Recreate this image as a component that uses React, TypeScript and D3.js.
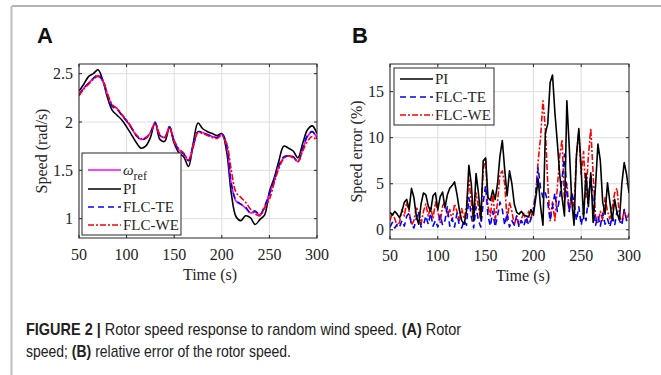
import React, { useLayoutEffect, useRef } from "react";
import * as d3 from "d3";

// ---------- Panel A data (rotor speed, rad/s) ----------
const TIME_A = [50, 55, 60, 65, 70, 75, 80, 85, 90, 95, 100, 105, 110, 115, 120, 125, 130, 135, 140, 145, 150, 155, 160, 165, 170, 175, 180, 185, 190, 195, 200, 205, 210, 215, 220, 225, 230, 235, 240, 245, 250, 255, 260, 265, 270, 275, 280, 285, 290, 295, 300];
const A_REF = [2.28, 2.35, 2.40, 2.45, 2.48, 2.42, 2.28, 2.17, 2.14, 2.07, 2.01, 1.94, 1.86, 1.82, 1.83, 1.89, 1.99, 1.86, 1.84, 1.95, 1.80, 1.71, 1.67, 1.60, 1.76, 1.90, 1.89, 1.87, 1.85, 1.84, 1.87, 1.76, 1.36, 1.18, 1.15, 1.11, 1.06, 1.07, 1.04, 1.12, 1.25, 1.39, 1.54, 1.63, 1.65, 1.64, 1.59, 1.72, 1.85, 1.90, 1.83];
const A_PI = [2.32, 2.39, 2.47, 2.50, 2.54, 2.43, 2.25, 2.12, 2.07, 2.02, 1.95, 1.87, 1.79, 1.73, 1.75, 1.84, 2.00, 1.82, 1.80, 1.94, 1.78, 1.68, 1.64, 1.54, 1.78, 1.99, 1.93, 1.90, 1.88, 1.86, 1.88, 1.70, 1.26, 1.02, 0.98, 1.03, 1.01, 0.94, 0.99, 1.04, 1.28, 1.42, 1.60, 1.75, 1.73, 1.70, 1.63, 1.78, 1.92, 1.96, 1.88];
const A_TE = [2.28, 2.35, 2.40, 2.45, 2.49, 2.43, 2.28, 2.16, 2.13, 2.07, 2.01, 1.94, 1.86, 1.82, 1.83, 1.89, 1.99, 1.86, 1.84, 1.95, 1.80, 1.71, 1.67, 1.60, 1.76, 1.90, 1.89, 1.87, 1.85, 1.84, 1.88, 1.77, 1.36, 1.19, 1.15, 1.12, 1.06, 1.08, 1.04, 1.13, 1.26, 1.40, 1.55, 1.64, 1.65, 1.64, 1.59, 1.73, 1.86, 1.90, 1.83];
const A_WE = [2.27, 2.34, 2.39, 2.44, 2.47, 2.43, 2.29, 2.18, 2.14, 2.08, 2.02, 1.95, 1.87, 1.83, 1.84, 1.89, 1.98, 1.87, 1.84, 1.94, 1.81, 1.72, 1.68, 1.61, 1.74, 1.89, 1.88, 1.86, 1.84, 1.83, 1.86, 1.78, 1.50, 1.27, 1.22, 1.17, 1.10, 1.05, 1.03, 1.11, 1.20, 1.37, 1.52, 1.62, 1.65, 1.63, 1.59, 1.70, 1.80, 1.85, 1.80];

// ---------- Panel B data (speed error, %) ----------
const TIME_B = [50, 52.5, 55, 57.5, 60, 62.5, 65, 67.5, 70, 72.5, 75, 77.5, 80, 82.5, 85, 87.5, 90, 92.5, 95, 97.5, 100, 102.5, 105, 107.5, 110, 112.5, 115, 117.5, 120, 122.5, 125, 127.5, 130, 132.5, 135, 137.5, 140, 142.5, 145, 147.5, 150, 152.5, 155, 157.5, 160, 162.5, 165, 167.5, 170, 172.5, 175, 177.5, 180, 182.5, 185, 187.5, 190, 192.5, 195, 197.5, 200, 202.5, 205, 207.5, 210, 212.5, 215, 217.5, 220, 222.5, 225, 227.5, 230, 232.5, 235, 237.5, 240, 242.5, 245, 247.5, 250, 252.5, 255, 257.5, 260, 262.5, 265, 267.5, 270, 272.5, 275, 277.5, 280, 282.5, 285, 287.5, 290, 292.5, 295, 297.5, 300];
const B_PI = [1.9, 1.6, 2.0, 1.7, 1.3, 2.0, 3.0, 3.3, 2.2, 4.5, 3.5, 1.5, 0.6, 2.8, 4.0, 3.8, 2.6, 2.0, 3.7, 4.0, 2.2, 3.6, 4.1, 2.4, 3.8, 4.5, 4.8, 5.2, 3.9, 2.2, 1.0, 0.6, 2.0, 7.0, 5.0, 1.0, 6.1, 4.0, 1.2, 7.5, 7.8, 3.5, 3.2, 4.3, 3.3, 5.0, 8.0, 9.7, 6.5, 3.7, 6.4, 5.0, 2.8, 1.9, 1.7, 2.0, 1.6, 1.5, 1.4, 2.2, 1.6, 3.5, 5.5, 2.5, 0.5, 10.5, 11.5, 16.0, 16.8, 12.7, 9.5, 6.0, 3.5, 1.5, 14.0, 9.0, 3.3, 0.5, 8.0, 11.0, 6.5, 1.2, 6.1, 2.5, 6.2, 0.8, 4.8, 9.3, 7.5, 3.0, 1.7, 5.1, 3.0, 1.0, 3.3, 1.8, 1.1, 5.0, 7.3, 6.0, 4.0];
const B_TE = [0.3, 0.8, 0.2, 0.6, 0.3, 1.0, 0.4, 1.5, 1.8, 0.6, 0.2, 1.2, 2.0, 0.3, 0.5, 1.5, 0.6, 1.8, 0.4, 1.0, 0.3, 1.6, 0.5, 1.0, 2.5, 0.4, 1.2, 0.3, 1.8, 0.5, 0.2, 1.0, 0.5, 3.5, 1.5, 0.2, 2.5, 1.0, 0.3, 3.0, 4.8, 1.5, 0.4, 2.0, 0.3, 1.5, 3.0, 2.2, 0.5, 1.8, 0.3, 1.0, 0.5, 1.5, 0.3, 1.0, 0.4, 1.4, 0.5, 1.2, 2.0, 4.0, 6.7, 4.5, 3.5, 4.0, 3.0, 1.0, 2.5, 4.0, 2.0, 3.5, 5.5, 8.2, 4.0, 2.0, 4.0, 3.0, 1.0, 2.5, 0.5, 2.0, 1.0, 3.5, 6.0, 3.0, 0.5, 1.5, 0.4, 1.8, 0.6, 1.2, 0.3, 1.5, 0.5, 2.0, 1.0, 0.5, 2.2, 1.0, 0.8];
const B_WE = [1.0, 1.8, 1.2, 0.4, 0.8, 2.2, 1.5, 3.0, 2.0, 0.5, 1.0, 2.5, 1.8, 0.6, 2.0, 2.8, 1.5, 2.5, 1.2, 3.0, 2.0, 0.8, 2.6, 3.0, 1.5, 2.2, 1.0, 2.8, 2.0, 1.0, 2.3, 1.2, 2.5, 5.5, 3.0, 0.8, 4.0, 2.5, 1.0, 6.5, 7.8, 2.5, 1.5, 4.0, 1.0, 3.0, 6.0, 6.4, 5.0, 1.0, 3.0, 2.0, 0.5, 1.5, 0.6, 1.2, 1.8, 0.8, 2.0, 1.2, 2.4, 4.0, 7.5, 10.0, 14.0, 11.0, 5.0, 1.0, 3.0, 1.0, 4.5, 8.0, 9.8, 3.0, 5.0, 2.0, 4.0, 2.5, 8.0, 10.7, 6.0, 8.5, 3.5, 8.0, 11.0, 6.0, 1.5, 0.8, 2.0, 1.0, 3.5, 2.0, 1.2, 2.5, 4.0, 4.5, 1.5, 0.8, 2.2, 1.0, 1.8];

const X_TICKS = [50, 100, 150, 200, 250, 300];
const A_Y_TICKS = [1, 1.5, 2, 2.5];
const B_Y_TICKS = [0, 5, 10, 15];

const SERIF = "'Liberation Serif', 'Times New Roman', serif";
const SANS = "'Liberation Sans', Arial, sans-serif";
const AXC = "#262626";

type Series = { name: string; values: number[]; color: string; dash: string; width: number; sub?: boolean };

function Panel(props: {
  x0: number; x1: number; y0: number; y1: number;
  yDomain: [number, number]; yTicks: number[];
  time: number[]; series: Series[]; curve: d3.CurveFactory;
  yLabel: string; yLabelX: number; xLabelX: number;
}) {
  const { x0, x1, y0, y1 } = props;
  const xs = d3.scaleLinear().domain([50, 300]).range([x0, x1]);
  const ys = d3.scaleLinear().domain(props.yDomain).range([y1, y0]);
  const clipId = "clip" + x0;
  const line = (vals: number[]) =>
    d3.line<number>().x((_, i) => xs(props.time[i])).y((v) => ys(v)).curve(props.curve)(vals) || "";
  const tl = 3;
  return (
    <g>
      <defs>
        <clipPath id={clipId}><rect x={x0} y={y0} width={x1 - x0} height={y1 - y0} /></clipPath>
      </defs>
      <rect x={x0} y={y0} width={x1 - x0} height={y1 - y0} fill="#fff" />
      {X_TICKS.map((t) => (
        <line key={"gx" + t} x1={xs(t)} x2={xs(t)} y1={y0} y2={y1} stroke="#dedede" strokeWidth={1} />
      ))}
      {props.yTicks.map((t) => (
        <line key={"gy" + t} x1={x0} x2={x1} y1={ys(t)} y2={ys(t)} stroke="#dedede" strokeWidth={1} />
      ))}
      <g clipPath={`url(#${clipId})`}>
        {props.series.map((s) => (
          <path key={s.name} d={line(s.values)} fill="none" stroke={s.color} strokeWidth={s.width} strokeDasharray={s.dash} strokeLinejoin="round" />
        ))}
      </g>
      {X_TICKS.map((t) => (
        <g key={"tx" + t}>
          <line x1={xs(t)} x2={xs(t)} y1={y1} y2={y1 - tl} stroke={AXC} />
          <line x1={xs(t)} x2={xs(t)} y1={y0} y2={y0 + tl} stroke={AXC} />
          <text x={xs(t)} y={y1 + 22} textAnchor="middle" fontFamily={SERIF} fontSize={16} fill={AXC}>{t}</text>
        </g>
      ))}
      {props.yTicks.map((t) => (
        <g key={"ty" + t}>
          <line x1={x0} x2={x0 + tl} y1={ys(t)} y2={ys(t)} stroke={AXC} />
          <line x1={x1} x2={x1 - tl} y1={ys(t)} y2={ys(t)} stroke={AXC} />
          <text x={x0 - 6} y={ys(t) + 5.5} textAnchor="end" fontFamily={SERIF} fontSize={16} fill={AXC}>{String(t)}</text>
        </g>
      ))}
      <rect x={x0} y={y0} width={x1 - x0} height={y1 - y0} fill="none" stroke={AXC} strokeWidth={1} />
      <text x={props.xLabelX} y={y1 + 42} textAnchor="middle" fontFamily={SERIF} fontSize={16} fill={AXC}>Time (s)</text>
      <text transform={`translate(${props.yLabelX},${(y0 + y1) / 2}) rotate(-90)`} textAnchor="middle" fontFamily={SERIF} fontSize={16} fill={AXC}>{props.yLabel}</text>
    </g>
  );
}

function Legend(props: { x: number; y: number; w: number; h: number; rows: { y: number; s: Series }[] }) {
  return (
    <g>
      <rect x={props.x} y={props.y} width={props.w} height={props.h} fill="#fff" stroke={AXC} strokeWidth={1} />
      {props.rows.map((r) => (
        <g key={r.s.name}>
          <line x1={props.x + 6} x2={props.x + 39} y1={r.y} y2={r.y} stroke={r.s.color} strokeWidth={r.s.width} strokeDasharray={r.s.dash} />
          {r.s.sub ? (
            <text x={props.x + 41} y={r.y + 5} fontFamily={SERIF} fontSize={15} fill={AXC}>
              <tspan fontStyle="italic">ω</tspan>
              <tspan fontSize={12} dy={5}>ref</tspan>
            </text>
          ) : (
            <text x={props.x + 41} y={r.y + 5} fontFamily={SERIF} fontSize={15} fill={AXC}>{r.s.name}</text>
          )}
        </g>
      ))}
    </g>
  );
}

function FitText(props: { x: number; y: number; width: number; children: React.ReactNode }) {
  const ref = useRef<SVGTextElement>(null);
  useLayoutEffect(() => {
    const el = ref.current;
    if (!el) return;
    el.removeAttribute("transform");
    const w = el.getBBox().width;
    if (w > 0) {
      const k = props.width / w;
      el.setAttribute("transform", `translate(${props.x},0) scale(${k},1) translate(${-props.x},0)`);
    }
  }, [props.width, props.x]);
  return (
    <text ref={ref} x={props.x} y={props.y} fontFamily={SANS} fontSize={16} fill="#222">{props.children}</text>
  );
}

export default function App() {
  const sRef: Series = { name: "ref", values: A_REF, color: "#ff00ff", dash: "", width: 1.6, sub: true };
  const sPIa: Series = { name: "PI", values: A_PI, color: "#000", dash: "", width: 1.6 };
  const sTEa: Series = { name: "FLC-TE", values: A_TE, color: "#0000ff", dash: "6,4", width: 1.6 };
  const sWEa: Series = { name: "FLC-WE", values: A_WE, color: "#ff0000", dash: "6,2,2,2", width: 1.6 };
  const sPIb: Series = { name: "PI", values: B_PI, color: "#000", dash: "", width: 1.6 };
  const sTEb: Series = { name: "FLC-TE", values: B_TE, color: "#0000ff", dash: "6,4", width: 1.6 };
  const sWEb: Series = { name: "FLC-WE", values: B_WE, color: "#ff0000", dash: "6,2,2,2", width: 1.6 };

  return (
    <svg width={661} height={375} style={{ position: "absolute", left: 0, top: 0, background: "#fff" }}>
      <rect x={0} y={0} width={661} height={375} fill="#fff" />
      <line x1={12} x2={661} y1={6} y2={6} stroke="#6b6b6b" strokeWidth={1.2} />
      <line x1={11.5} x2={11.5} y1={6} y2={375} stroke="#bdbdbd" strokeWidth={2} />

      <text x={37} y={43} fontFamily={SANS} fontWeight="bold" fontSize={22} fill="#111">A</text>
      <text x={352} y={43} fontFamily={SANS} fontWeight="bold" fontSize={22} fill="#111">B</text>

      <Panel x0={79} x1={317} y0={64} y1={238} yDomain={[0.8, 2.6]} yTicks={A_Y_TICKS}
        time={TIME_A} series={[sPIa, sRef, sTEa, sWEa]} curve={d3.curveCatmullRom}
        yLabel="Speed (rad/s)" yLabelX={47} xLabelX={210} />
      <Legend x={82} y={153} w={99} h={82} rows={[
        { y: 170, s: sRef }, { y: 189, s: sPIa }, { y: 207, s: sTEa }, { y: 225, s: sWEa },
      ]} />

      <Panel x0={390} x1={629} y0={64} y1={239} yDomain={[-1, 18]} yTicks={B_Y_TICKS}
        time={TIME_B} series={[sWEb, sTEb, sPIb]} curve={d3.curveLinear}
        yLabel="Speed error (%)" yLabelX={362} xLabelX={523} />
      <Legend x={394} y={68} w={100} h={57} rows={[
        { y: 79, s: sPIb }, { y: 97, s: sTEb }, { y: 115, s: sWEb },
      ]} />

      <FitText x={26} y={335} width={436}>
        <tspan fontWeight="bold">FIGURE 2 | </tspan>
        <tspan>Rotor speed response to random wind speed. </tspan>
        <tspan fontWeight="bold">(A)</tspan>
        <tspan> Rotor</tspan>
      </FitText>
      <FitText x={26} y={357} width={265}>
        <tspan>speed; </tspan>
        <tspan fontWeight="bold">(B)</tspan>
        <tspan> relative error of the rotor speed.</tspan>
      </FitText>
    </svg>
  );
}
